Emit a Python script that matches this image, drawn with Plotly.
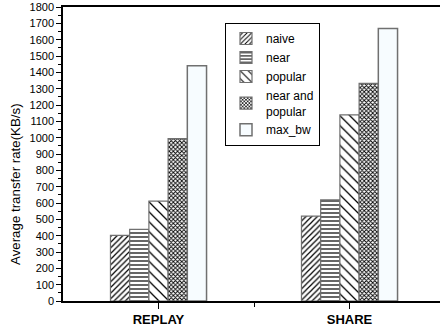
import plotly.graph_objects as go

# Workloads on the x axis
categories = ["REPLAY", "SHARE"]

# Average transfer rate (KB/s) for each strategy
naive = [402, 520]
near = [439, 620]
popular = [612, 1140]
near_and_popular = [995, 1332]
max_bw = [1440, 1668]

series_names = ["naive", "near", "popular", "near and<br>popular", "max_bw"]
series_values = [naive, near, popular, near_and_popular, max_bw]

# hatch style per series: (shape, size, solidity)
hatches = [("/", 4, 0.3), ("-", 4, 0.3), ("\\", 7, 0.18), ("x", 3, 0.5), ("", 8, 0.3)]

FONT = "Liberation Sans"
W, H = 440, 334
L, R, T, B = 63, 0, 7, 33

xpos = list(range(1, len(categories) + 1))

fig = go.Figure()
for name, vals, (shape, size, sol) in zip(series_names, series_values, hatches):
    is_plain = shape == ""
    fig.add_trace(go.Bar(
        x=xpos, y=vals, name=name,
        marker=dict(
            color="#f7fcff" if is_plain else "white",
            line=dict(color="#707070", width=1.5 if is_plain else 1.2),
            pattern=dict(shape=shape, size=size, solidity=sol,
                         fgcolor="black", bgcolor="white", fillmode="replace"),
        ),
    ))

x_hi = 0.5 + (W - L - R) / 191.0

fig.update_layout(
    width=W, height=H,
    margin=dict(l=L, r=R, t=T, b=B),
    paper_bgcolor="white", plot_bgcolor="white",
    barmode="group", bargap=0.497, bargroupgap=0,
    font=dict(family=FONT, color="black"),
    showlegend=True,
    legend=dict(
        x=(225 - L) / (W - L - R), y=1 - (23 - T) / (H - T - B),
        xanchor="left", yanchor="top",
        bordercolor="black", borderwidth=1, bgcolor="white",
        font=dict(size=12, family=FONT, color="black"),
        tracegroupgap=0,
    ),
    xaxis=dict(
        range=[0.5, x_hi],
        tickmode="array", tickvals=xpos, ticktext=categories,
        tickfont=dict(size=13, family=FONT, color="black", weight="bold"),
        ticks="outside", ticklen=6, tickwidth=1.2, tickcolor="black",
        minor=dict(tickmode="array", tickvals=[1.5], ticks="outside",
                   ticklen=4, tickwidth=1.2, tickcolor="black"),
        showline=True, linecolor="black", linewidth=1.5, mirror=True,
        showgrid=False, zeroline=False,
    ),
    yaxis=dict(
        range=[0, 1800], dtick=100, tick0=0,
        tickfont=dict(size=11, family=FONT, color="black"),
        ticks="outside", ticklen=5, tickwidth=1.2, tickcolor="black",
        minor=dict(dtick=50, ticks="outside", ticklen=3, tickwidth=1,
                   tickcolor="black"),
        showline=True, linecolor="black", linewidth=1.5,
        showgrid=False, zeroline=False,
        ticklabeloverflow="allow",
    ),
    annotations=[dict(
        text="Average transfer rate(KB/s)",
        xref="paper", yref="paper",
        x=(15 - L) / (W - L - R), y=(H - B - 184) / (H - T - B),
        xanchor="center", yanchor="middle", textangle=-90,
        showarrow=False, font=dict(size=13.3, family=FONT, color="black"),
    )],
)

fig.write_html("out.html")
